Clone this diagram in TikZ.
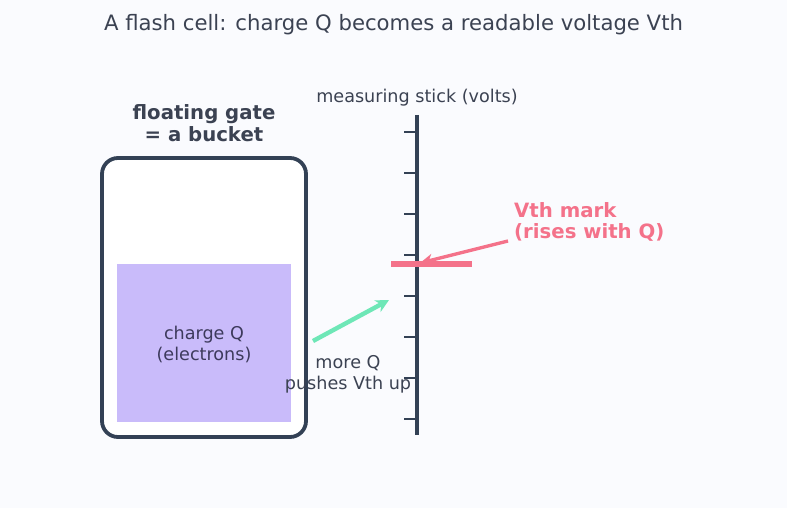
\documentclass[tikz,border=0pt]{standalone}
\usepackage{fontspec}
\setmainfont{DejaVu Sans}
\usetikzlibrary{arrows.meta}
\definecolor{bg}{HTML}{FAFBFE}
\definecolor{ink}{HTML}{334155}
\definecolor{txt}{HTML}{3B4252}
\definecolor{fillq}{HTML}{C9BBFA}
\definecolor{qtxt}{HTML}{3D3A5C}
\definecolor{redm}{HTML}{F4728A}
\definecolor{grn}{HTML}{6EE7B7}
\tikzset{
  lbl/.style={font=\fontsize{17.6}{21}\selectfont, text=txt, align=center, inner sep=0pt},
  bold lbl/.style={font=\fontsize{19.7}{21.5}\selectfont\bfseries, align=center, inner sep=0pt},
  tick/.style={draw=ink, line width=1.7pt},
}
\begin{document}
\begin{tikzpicture}[x=1pt,y=-1pt]
\fill[bg] (0,0) rectangle (787,508);
\useasboundingbox (0,0) rectangle (787,508);
\node[font=\fontsize{21.2}{25}\selectfont, text=txt, inner sep=0pt] (title) at (393.5,24.5) {A flash cell: charge Q becomes a readable voltage Vth};
% bucket
\draw[ink, line width=3.8pt, fill=white, rounded corners=16pt] (102,158) rectangle (306,437);
\node[fill=fillq, minimum width=174pt, minimum height=158pt, inner sep=0pt, anchor=north west] (q) at (117,264) {};
\node[lbl, text=qtxt] (qt) at (204,344) {charge Q\\(electrons)};
\node[bold lbl, text=txt] (fg) at (204,123) {floating gate\\= a bucket};
% stick
\coordinate (st) at (417,115);
\coordinate (sb) at (417,435);
\draw[ink, line width=3.8pt] (st) -- (sb);
\foreach \y in {132,173,214,255,296,337,378,419} \draw[tick] (404,\y) -- (417,\y);
\node[lbl] (ms) at (417,97.5) {measuring stick (volts)};
% Vth mark
\coordinate (ml) at (391,264);
\coordinate (mr) at (472,264);
\draw[redm, line width=5.5pt] (ml) -- (mr);
\node[bold lbl, text=redm, align=left, anchor=west] (vm) at (514,222) {Vth mark\\(rises with Q)};
\coordinate (ra) at (508,241);
\coordinate (rb) at (420,263);
\draw[redm, line width=3.3pt, -{Stealth[length=13pt,width=12pt,inset=4pt]}] (ra) -- (rb);
% green arrow
\coordinate (ga) at (313,341);
\coordinate (gb) at (389,300);
\draw[grn, line width=4.4pt, -{Stealth[length=13pt,width=13pt,inset=4pt]}] (ga) -- (gb);
\node[lbl] (mq) at (348,374) {more Q\\pushes Vth up};
\end{tikzpicture}
\end{document}
